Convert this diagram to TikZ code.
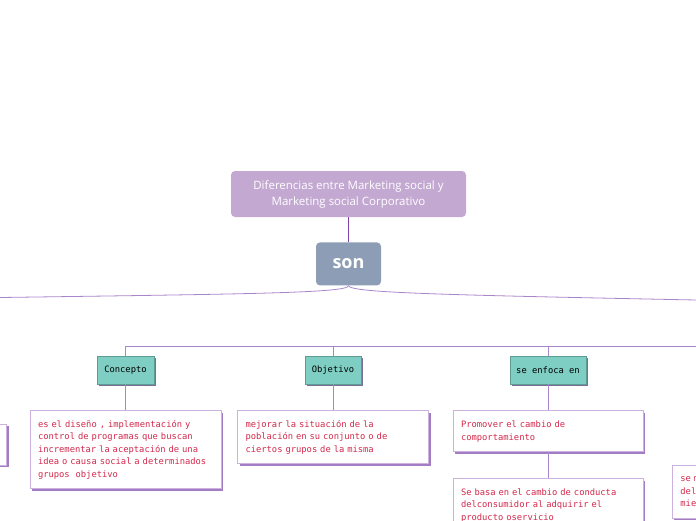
\documentclass[tikz,border=0pt]{standalone}
\usepackage{fontspec}
\setmainfont{Open Sans}
\newfontfamily\pixfont{DejaVu Sans Mono}
\usetikzlibrary{positioning, shadows}
\definecolor{titlepurple}{HTML}{C3A8D2}
\definecolor{sonslate}{HTML}{8C9DB5}
\definecolor{linepurple}{HTML}{A985C9}
\definecolor{linedark}{HTML}{7E44A8}
\definecolor{tealbox}{HTML}{7FCEC3}
\definecolor{tealedge}{HTML}{5E9C94}
\definecolor{shadowgrey}{HTML}{7A6E96}
\definecolor{boxedge}{HTML}{CDB2DF}
\definecolor{boxshadow}{HTML}{A27DC4}
\definecolor{textred}{HTML}{D3284B}
\tikzstyle{maintitle} = [rectangle, rounded corners=4pt, minimum width=235pt, minimum height=46pt, inner sep=0pt, fill=titlepurple, text=white, align=center, font=\fontsize{11.5}{16}\selectfont]
\tikzstyle{linker} = [rectangle, rounded corners=4pt, minimum width=65pt, minimum height=43pt, inner sep=0pt, fill=sonslate, text=white, font=\fontsize{18}{20}\selectfont\bfseries]
\tikzstyle{topic} = [rectangle, minimum height=28pt, inner sep=0pt, fill=tealbox, draw=tealedge, line width=0.8pt, drop shadow={shadow xshift=1.5pt, shadow yshift=-1.5pt, fill=shadowgrey, opacity=1}, font=\pixfont\fontsize{8.8}{10}\selectfont]
\tikzstyle{info} = [rectangle, inner xsep=8pt, inner ysep=0pt, fill=white, draw=boxedge, line width=0.8pt, drop shadow={shadow xshift=2pt, shadow yshift=-2pt, fill=boxshadow, opacity=1}, text=textred, align=left, font=\pixfont\fontsize{8.8}{12.5}\selectfont]
\tikzstyle{link} = [draw=linepurple, line width=0.8pt]

\begin{document}
\begin{tikzpicture}[x=1pt, y=-1pt]
    \useasboundingbox (0,0) rectangle (696,520);
    \clip (0,0) rectangle (696,520);

    \node (title) [maintitle] at (348.5,194) {Diferencias entre Marketing social y\\Marketing social Corporativo};
    \node (son) [linker, below=25pt of title] {son};
    \node (concepto) [topic, minimum width=57pt] at (125.5,370) {Concepto};
    \node (objetivo) [topic, minimum width=56pt] at (333,370) {Objetivo};
    \node (enfoque) [topic, minimum width=76pt] at (548,370) {se enfoca en};
    \node (conceptoText) [info, text width=175pt, minimum height=78pt, below=26pt of concepto] {es el diseño , implementación y\\control de programas que buscan\\incrementar la aceptación de una\\idea o causa social a determinados\\grupos~ objetivo};
    \node (objetivoText) [info, text width=175pt, minimum height=53pt, below=26pt of objetivo] {mejorar la situación de la\\población en su conjunto o de\\ciertos grupos de la misma};
    \node (promover) [info, text width=174pt, minimum height=41pt, below=26pt of enfoque] {Promover el cambio de\\comportamiento};
    \node (basa) [info, text width=174pt, minimum height=53pt, below=26pt of promover] {Se basa en el cambio de conducta\\delconsumidor al adquirir el\\producto oservicio};
    \node (leftBox) [info, minimum width=160pt, minimum height=41pt, anchor=north east] at (7,424) {};
    \node (rightBox) [info, text width=175pt, minimum height=53pt, anchor=north west] at (672,465) {se m\\del\\mien};

    \coordinate (curveL) at (0,297.5);
    \coordinate (curveR) at (696,300);
    \coordinate (busR) at (696,346);

    \draw [link, draw=linedark] (title) -- (son);
    \draw [link] (son.south) .. controls (349,293) and (250,294) .. (curveL);
    \draw [link] (son.south) .. controls (349,293) and (450,295) .. (curveR);
    \draw [link] (concepto.north) |- (busR);
    \draw [link] (objetivo.north) -- (objetivo.north |- busR);
    \draw [link] (enfoque.north) -- (enfoque.north |- busR);
    \draw [link] (concepto) -- (conceptoText);
    \draw [link] (objetivo) -- (objetivoText);
    \draw [link] (enfoque) -- (promover);
    \draw [link] (promover) -- (basa);
\end{tikzpicture}
\end{document}
